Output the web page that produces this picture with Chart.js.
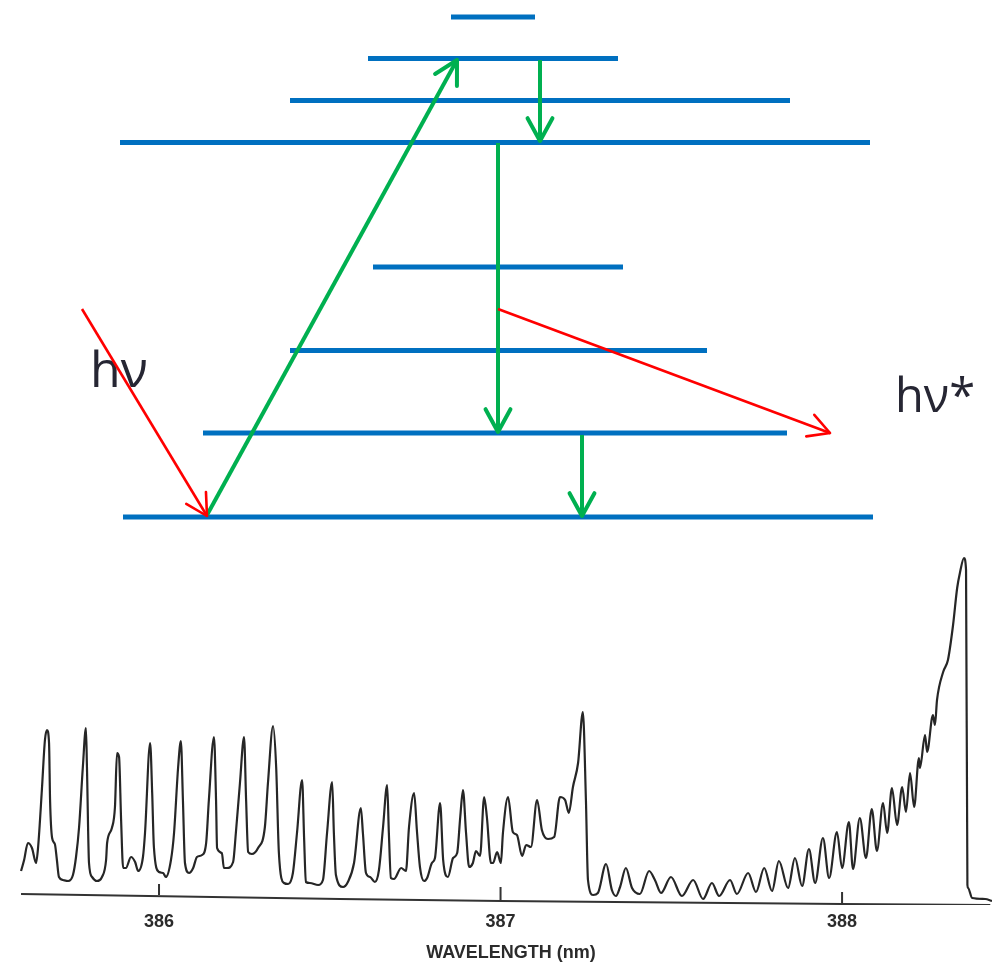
<!DOCTYPE html>
<html>
<head>
<meta charset="utf-8">
<title>Energy levels and emission spectrum</title>
<script src="https://cdn.jsdelivr.net/npm/chart.js@4"></script>
<style>
html, body { margin: 0; padding: 0; background: #fff; }
.box { position: absolute; left: 0; width: 992px; }
#levelBox { top: 0; height: 530px; }
#spectrumBox { top: 530px; height: 435px; }
</style>
</head>
<body>
<div class="box" id="levelBox"><canvas id="levelChart"></canvas></div>
<div class="box" id="spectrumBox"><canvas id="spectrumChart"></canvas></div>
<script>
// Energy levels, lowest to highest (diagram units)
const levelEnergy = [13, 97, 179.5, 263, 387.5, 429.5, 471.5, 513];
const levelStart = [123, 203, 290, 373, 120, 290, 368, 451];
const levelEnd = [873, 787, 707, 623, 870, 790, 618, 535];

// Transitions [from x, from energy, to x, to energy]
const greenArrows = [
    [207, 15, 457, 470],
    [540, 470, 540, 389],
    [498, 387, 498, 98],
    [582, 95, 582, 14]
];
const redArrows = [
    [82, 221, 207, 14],
    [498, 221, 830, 97]
];
const photonLabels = ['h\u03bd', 'h\u03bd*'];
const photonX = [90, 895];
const photonY = [143, 118];
const photonSize = [50, 47];

// Spectrum
const wavelengths = [
    385.596, 385.605, 385.616, 385.628, 385.640, 385.646, 385.657, 385.666, 385.672, 385.678,
    385.681, 385.687, 385.695, 385.701, 385.707, 385.719, 385.734, 385.748, 385.757, 385.766,
    385.777, 385.786, 385.789, 385.795, 385.804, 385.818, 385.833, 385.845, 385.848, 385.862,
    385.871, 385.877, 385.883, 385.889, 385.895, 385.903, 385.918, 385.930, 385.939, 385.953,
    385.959, 385.974, 385.980, 385.985, 386.000, 386.012, 386.020, 386.035, 386.044, 386.056,
    386.064, 386.070, 386.076, 386.088, 386.100, 386.111, 386.126, 386.138, 386.146, 386.161,
    386.167, 386.170, 386.184, 386.190, 386.199, 386.217, 386.225, 386.237, 386.249, 386.255,
    386.261, 386.272, 386.290, 386.310, 386.319, 386.334, 386.343, 386.351, 386.366, 386.378,
    386.392, 386.404, 386.419, 386.425, 386.430, 386.442, 386.466, 386.480, 386.492, 386.507,
    386.512, 386.518, 386.539, 386.553, 386.571, 386.591, 386.597, 386.606, 386.618, 386.632,
    386.644, 386.656, 386.668, 386.673, 386.679, 386.688, 386.709, 386.723, 386.732, 386.747,
    386.755, 386.764, 386.776, 386.785, 386.799, 386.808, 386.823, 386.832, 386.846, 386.861,
    386.873, 386.882, 386.890, 386.899, 386.908, 386.919, 386.928, 386.940, 386.952, 386.960,
    386.972, 386.978, 386.990, 387.001, 387.007, 387.022, 387.036, 387.048, 387.063, 387.075,
    387.089, 387.107, 387.121, 387.139, 387.157, 387.174, 387.189, 387.200, 387.212, 387.227,
    387.241, 387.250, 387.256, 387.271, 387.285, 387.309, 387.326, 387.338, 387.350, 387.367,
    387.385, 387.408, 387.435, 387.452, 387.470, 387.499, 387.531, 387.564, 387.593, 387.619,
    387.640, 387.672, 387.692, 387.725, 387.748, 387.772, 387.795, 387.815, 387.842, 387.862,
    387.883, 387.903, 387.921, 387.944, 387.962, 387.985, 388.000, 388.020, 388.032, 388.052,
    388.070, 388.087, 388.102, 388.120, 388.132, 388.146, 388.161, 388.176, 388.187, 388.199,
    388.211, 388.225, 388.228, 388.243, 388.249, 388.266, 388.272, 388.278, 388.296, 388.310,
    388.325, 388.337, 388.345, 388.357, 388.363, 388.367, 388.369, 388.381, 388.419, 388.439
];
const intensity = [
    34, 45, 62, 57, 42, 58, 115, 165, 175, 162,
    105, 67, 61, 45, 28, 25, 24, 30, 48, 78,
    138, 177, 138, 42, 28, 24, 28, 45, 62, 77,
    98, 152, 148, 85, 37, 37, 48, 43, 34, 48,
    72, 162, 112, 58, 33, 32, 28, 45, 72, 138,
    164, 105, 42, 32, 37, 48, 50, 62, 105, 168,
    105, 57, 52, 37, 37, 43, 72, 122, 168, 105,
    53, 51, 57, 78, 122, 179, 138, 52, 22, 21,
    32, 72, 125, 65, 23, 22, 20, 25, 72, 123,
    72, 30, 18, 23, 42, 97, 72, 32, 28, 23,
    35, 78, 120, 72, 27, 26, 37, 34, 78, 112,
    75, 38, 24, 27, 42, 47, 102, 45, 28, 47,
    52, 88, 115, 72, 38, 42, 54, 49, 108, 88,
    42, 42, 53, 42, 72, 108, 73, 70, 49, 60,
    58, 105, 75, 66, 68, 108, 105, 92, 118, 142,
    193, 105, 25, 10, 12, 41, 15, 9, 18, 37,
    17, 11, 34, 25, 12, 28, 9, 25, 6, 22,
    9, 25, 11, 32, 13, 37, 14, 44, 17, 47,
    19, 56, 22, 67, 27, 73, 37, 83, 36, 87,
    47, 96, 54, 102, 72, 117, 80, 118, 93, 132,
    98, 147, 137, 170, 153, 190, 180, 205, 233, 245,
    280, 317, 332, 347, 335, 20, 17, 7, 6, 4
];

// Slightly tilted pen baseline and its tick marks
const baselineX = [385.596, 386.530, 387.001, 388.000, 388.434];
const baselineY = [11, 6, 4, 1, 0];
const tickValues = [386, 387, 388];
const tickFoot = [10, 4, 1];
const tickTop = [21, 18, 13];

const arrowHeads = {
    id: 'arrowHeads',
    afterDatasetsDraw(chart) {
        const ctx = chart.ctx;
        chart.data.datasets.forEach((ds) => {
            if (!ds.headLength) return;
            const from = ds.data[0];
            const to = ds.data[1];
            const x0 = chart.scales.x.getPixelForValue(from.x);
            const y0 = chart.scales.y.getPixelForValue(from.y);
            const x1 = chart.scales.x.getPixelForValue(to.x);
            const y1 = chart.scales.y.getPixelForValue(to.y);
            const angle = Math.atan2(y1 - y0, x1 - x0);
            ctx.save();
            ctx.strokeStyle = ds.borderColor;
            ctx.lineWidth = ds.borderWidth;
            ctx.lineCap = 'round';
            ctx.beginPath();
            [-0.5, 0.5].forEach((turn) => {
                ctx.moveTo(x1, y1);
                ctx.lineTo(x1 - ds.headLength * Math.cos(angle + turn), y1 - ds.headLength * Math.sin(angle + turn));
            });
            ctx.stroke();
            ctx.restore();
        });
    }
};

const photonText = {
    id: 'photonText',
    beforeDatasetsDraw(chart) {
        const ctx = chart.ctx;
        ctx.save();
        ctx.fillStyle = '#262633';
        ctx.textBaseline = 'alphabetic';
        photonLabels.forEach((label, i) => {
            ctx.font = photonSize[i] + 'px "Open Sans"';
            ctx.fillText(label, chart.scales.x.getPixelForValue(photonX[i]), chart.scales.y.getPixelForValue(photonY[i]));
        });
        ctx.restore();
    }
};

function arrowSet(list, color, width, head) {
    return list.map((a) => ({
        data: [{ x: a[0], y: a[1] }, { x: a[2], y: a[3] }],
        borderColor: color,
        borderWidth: width,
        headLength: head,
        pointRadius: 0,
        showLine: true
    }));
}

const levelSets = levelEnergy.map((e, i) => ({
    data: [{ x: levelStart[i], y: e }, { x: levelEnd[i], y: e }],
    borderColor: '#0070c0',
    borderWidth: 5,
    pointRadius: 0,
    showLine: true
}));

new Chart(document.getElementById('levelChart'), {
    type: 'scatter',
    data: {
        datasets: arrowSet(redArrows, '#ff0000', 2.6, 24)
            .concat(arrowSet(greenArrows, '#00b050', 4, 26))
            .concat(levelSets)
    },
    options: {
        responsive: true,
        maintainAspectRatio: false,
        animation: false,
        plugins: { legend: { display: false }, tooltip: { enabled: false } },
        scales: {
            x: { type: 'linear', min: 0, max: 992, display: false },
            y: { type: 'linear', min: 0, max: 530, display: false }
        }
    },
    plugins: [arrowHeads, photonText]
});

const tickMarks = [];
tickValues.forEach((t, i) => {
    tickMarks.push({ x: t, y: tickFoot[i] }, { x: t, y: tickTop[i] }, { x: t, y: null });
});

new Chart(document.getElementById('spectrumChart'), {
    type: 'scatter',
    data: {
        datasets: [
            {
                data: wavelengths.map((w, i) => ({ x: w, y: intensity[i] })),
                borderColor: '#262626',
                borderWidth: 2.2,
                pointRadius: 0,
                showLine: true,
                cubicInterpolationMode: 'monotone'
            },
            {
                data: baselineX.map((w, i) => ({ x: w, y: baselineY[i] })),
                borderColor: '#333',
                borderWidth: 1.8,
                pointRadius: 0,
                showLine: true
            },
            {
                data: tickMarks,
                borderColor: '#333',
                borderWidth: 2,
                pointRadius: 0,
                showLine: true,
                spanGaps: false
            }
        ]
    },
    options: {
        responsive: true,
        maintainAspectRatio: false,
        animation: false,
        plugins: { legend: { display: false }, tooltip: { enabled: false } },
        scales: {
            x: {
                type: 'linear',
                min: 385.5344,
                max: 388.439,
                border: { display: false },
                grid: { display: false, drawTicks: false },
                afterBuildTicks(scale) {
                    scale.ticks = tickValues.map((v) => ({ value: v }));
                },
                afterFit(scale) {
                    scale.height = 60;
                },
                ticks: {
                    autoSkip: false,
                    maxRotation: 0,
                    padding: 6,
                    color: '#2b2b2b',
                    font: { family: '"Liberation Sans"', size: 18, weight: 'bold' },
                    callback: (v) => String(v)
                },
                title: {
                    display: true,
                    text: '      WAVELENGTH (nm)',
                    color: '#2b2b2b',
                    font: { family: '"Liberation Sans"', size: 18, weight: 'bold' },
                    padding: { top: 0, bottom: 1 }
                }
            },
            y: { type: 'linear', min: 0, max: 375, display: false }
        }
    }
});
</script>
</body>
</html>
